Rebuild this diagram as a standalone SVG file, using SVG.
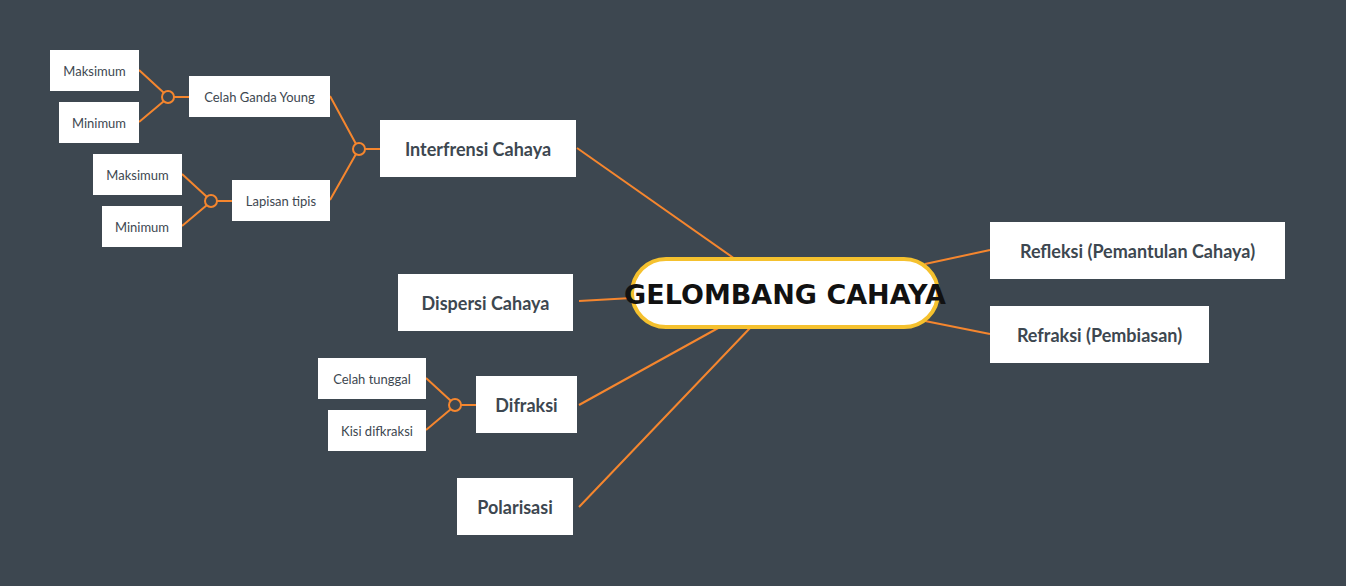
<svg xmlns="http://www.w3.org/2000/svg" width="1346" height="586" viewBox="0 0 1346 586">
<style>
.b{fill:#fff}
.t{font-family:"Lato","Liberation Sans",sans-serif;fill:#3d4750;text-anchor:middle;dominant-baseline:central}
.s{font-size:13px}
.m{font-size:18px;font-weight:bold}
.c{fill:none;stroke:#f5862e;stroke-width:2}
</style>
<rect width="1346" height="586" fill="#3d4750"/>
<g id="connectors" class="c">
<path d="M139 70L164 93M139 122L164 101M174 97H189"/>
<path d="M182 174L207 197M182 226L207 205M217 201H232"/>
<path d="M330 96L356 144M330 200L356 154M365 149H380"/>
<path d="M426 378L451 401M426 430L451 409M461 405H476"/>
<path d="M577 148L735 259M579 301L632 298M579 405L720 327M579 507L751 327M925 264L990 250M925 321L990 334"/>
<circle cx="168" cy="97" r="6"/><circle cx="211" cy="201" r="6"/><circle cx="359" cy="149" r="6"/><circle cx="455" cy="405" r="6"/>
</g>
<g id="center"><rect x="632" y="259" width="306" height="68" rx="34" fill="#fff" stroke="#f5c12e" stroke-width="4"/><text x="785" y="294" class="t" style="font-size:27px;font-weight:bold;fill:#111;font-family:'DejaVu Sans',sans-serif">GELOMBANG CAHAYA</text></g>
<g id="n1"><rect class="b" x="50" y="50" width="89" height="41"/><text class="t s" x="94.5" y="70.5">Maksimum</text></g>
<g id="n2"><rect class="b" x="59" y="102" width="80" height="41"/><text class="t s" x="99" y="122.5">Minimum</text></g>
<g id="n3"><rect class="b" x="189" y="76" width="141" height="41"/><text class="t s" x="259.5" y="96.5">Celah Ganda Young</text></g>
<g id="n4"><rect class="b" x="93" y="154" width="89" height="41"/><text class="t s" x="137.5" y="174.5">Maksimum</text></g>
<g id="n5"><rect class="b" x="102" y="206" width="80" height="41"/><text class="t s" x="142" y="226.5">Minimum</text></g>
<g id="n6"><rect class="b" x="232" y="180" width="98" height="41"/><text class="t s" x="281" y="200.5">Lapisan tipis</text></g>
<g id="n7"><rect class="b" x="380" y="120" width="196" height="57"/><text class="t m" x="478" y="148.5">Interfrensi Cahaya</text></g>
<g id="n8"><rect class="b" x="398" y="274" width="175" height="57"/><text class="t m" x="485.5" y="302.5">Dispersi Cahaya</text></g>
<g id="n9"><rect class="b" x="318" y="358" width="108" height="41"/><text class="t s" x="372" y="378.5">Celah tunggal</text></g>
<g id="n10"><rect class="b" x="328" y="410" width="98" height="41"/><text class="t s" x="377" y="430.5">Kisi difkraksi</text></g>
<g id="n11"><rect class="b" x="476" y="376" width="101" height="57"/><text class="t m" x="526.5" y="404.5">Difraksi</text></g>
<g id="n12"><rect class="b" x="457" y="478" width="116" height="57"/><text class="t m" x="515" y="506.5">Polarisasi</text></g>
<g id="n13"><rect class="b" x="990" y="222" width="295" height="57"/><text class="t m" x="1137.5" y="250.5">Refleksi (Pemantulan Cahaya)</text></g>
<g id="n14"><rect class="b" x="990" y="306" width="219" height="57"/><text class="t m" x="1099.5" y="334.5">Refraksi (Pembiasan)</text></g>
</svg>
